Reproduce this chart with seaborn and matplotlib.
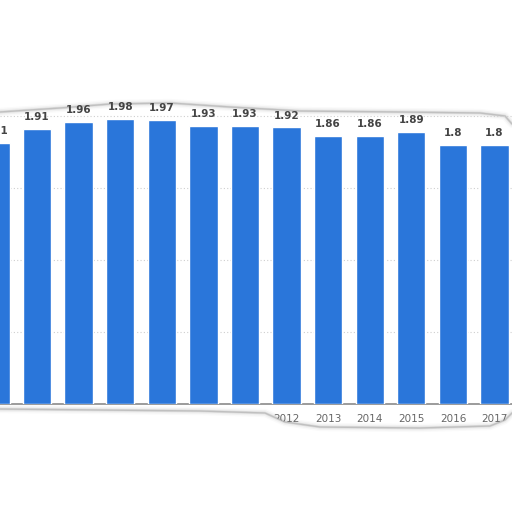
import numpy as np
import pandas as pd
import seaborn as sns
import matplotlib.pyplot as plt
from matplotlib.patches import Polygon

# values
years = ["2005", "2006", "2007", "2008", "2009", "2010", "2011",
         "2012", "2013", "2014", "2015", "2016", "2017"]
values = [1.81, 1.91, 1.96, 1.98, 1.97, 1.93, 1.93,
          1.92, 1.86, 1.86, 1.89, 1.8, 1.8]
value_labels = ["1.81", "1.91", "1.96", "1.98", "1.97", "1.93", "1.93",
                "1.92", "1.86", "1.86", "1.89", "1.8", "1.8"]
grid_ticks = [0.5, 1.0, 1.5, 2.0]

df = pd.DataFrame({"year": years, "value": values})

sns.set_style("white")
plt.rcParams['font.family'] = ['DejaVu Sans']

W = H = 512
fig = plt.figure(figsize=(5.12, 5.12), dpi=100)
fig.patch.set_facecolor("white")
# axes placed so the baseline sits near y=404 px and bars span the full width
ax = fig.add_axes([0, (H - 404) / H, 1, (404 - 90) / H])
ax.patch.set_alpha(0)

sns.barplot(data=df, x="year", y="value", color="#2a76da", saturation=1,
            width=0.68, ax=ax, zorder=3)

ax.set_xlim(0.11, 12.42)
ax.set_ylim(0, 2.18)
ax.set_yticks(grid_ticks)
ax.yaxis.grid(True, linestyle=(0, (1, 2)), color="#cfcfcf", linewidth=0.8, zorder=0)
ax.tick_params(axis="y", left=False, labelleft=False)
ax.tick_params(axis="x", bottom=False, pad=3.5, labelsize=7.5, labelcolor="#666666")
ax.set_xlabel("")
ax.set_ylabel("")
for s in ["top", "right", "left"]:
    ax.spines[s].set_visible(False)
ax.spines["bottom"].set_color("#8a8a8a")
ax.spines["bottom"].set_linewidth(1.2)

for i, (v, lab) in enumerate(zip(values, value_labels)):
    ax.annotate(lab, (i, v), xytext=(0, 5), textcoords="offset points",
                ha="center", va="bottom", fontsize=7.5, fontweight="bold",
                color="#444444", zorder=4, annotation_clip=False)


# torn paper edges (pixel coordinates measured from the top)
def to_fig(pts):
    return [(x / W, 1 - y / H) for x, y in pts]


top_edge = [(0, 112), (60, 108), (110, 104), (170, 103), (230, 107),
            (300, 111), (400, 112), (480, 113), (505, 116), (512, 124)]
bottom_edge = [(0, 409), (100, 410), (200, 411), (265, 413), (285, 422),
               (320, 427), (420, 428), (490, 426), (505, 420), (512, 413)]

bot_poly = [(0, 520)] + bottom_edge + [(520, 520)]
fig.add_artist(Polygon(to_fig(bot_poly), closed=True, facecolor="white",
                       edgecolor="none", transform=fig.transFigure, zorder=10))

for lw, a in [(6, 0.04), (4, 0.08), (2, 0.18), (1, 0.35)]:
    xs, ys = zip(*to_fig(top_edge))
    fig.add_artist(plt.Line2D(xs, ys, color="#888888", linewidth=lw, alpha=a,
                              transform=fig.transFigure, zorder=-1,
                              solid_capstyle="round"))
    xs, ys = zip(*to_fig(bottom_edge))
    fig.add_artist(plt.Line2D(xs, ys, color="#888888", linewidth=lw, alpha=a,
                              transform=fig.transFigure, zorder=11,
                              solid_capstyle="round"))

fig.savefig("out.png", dpi=100, facecolor="white")
